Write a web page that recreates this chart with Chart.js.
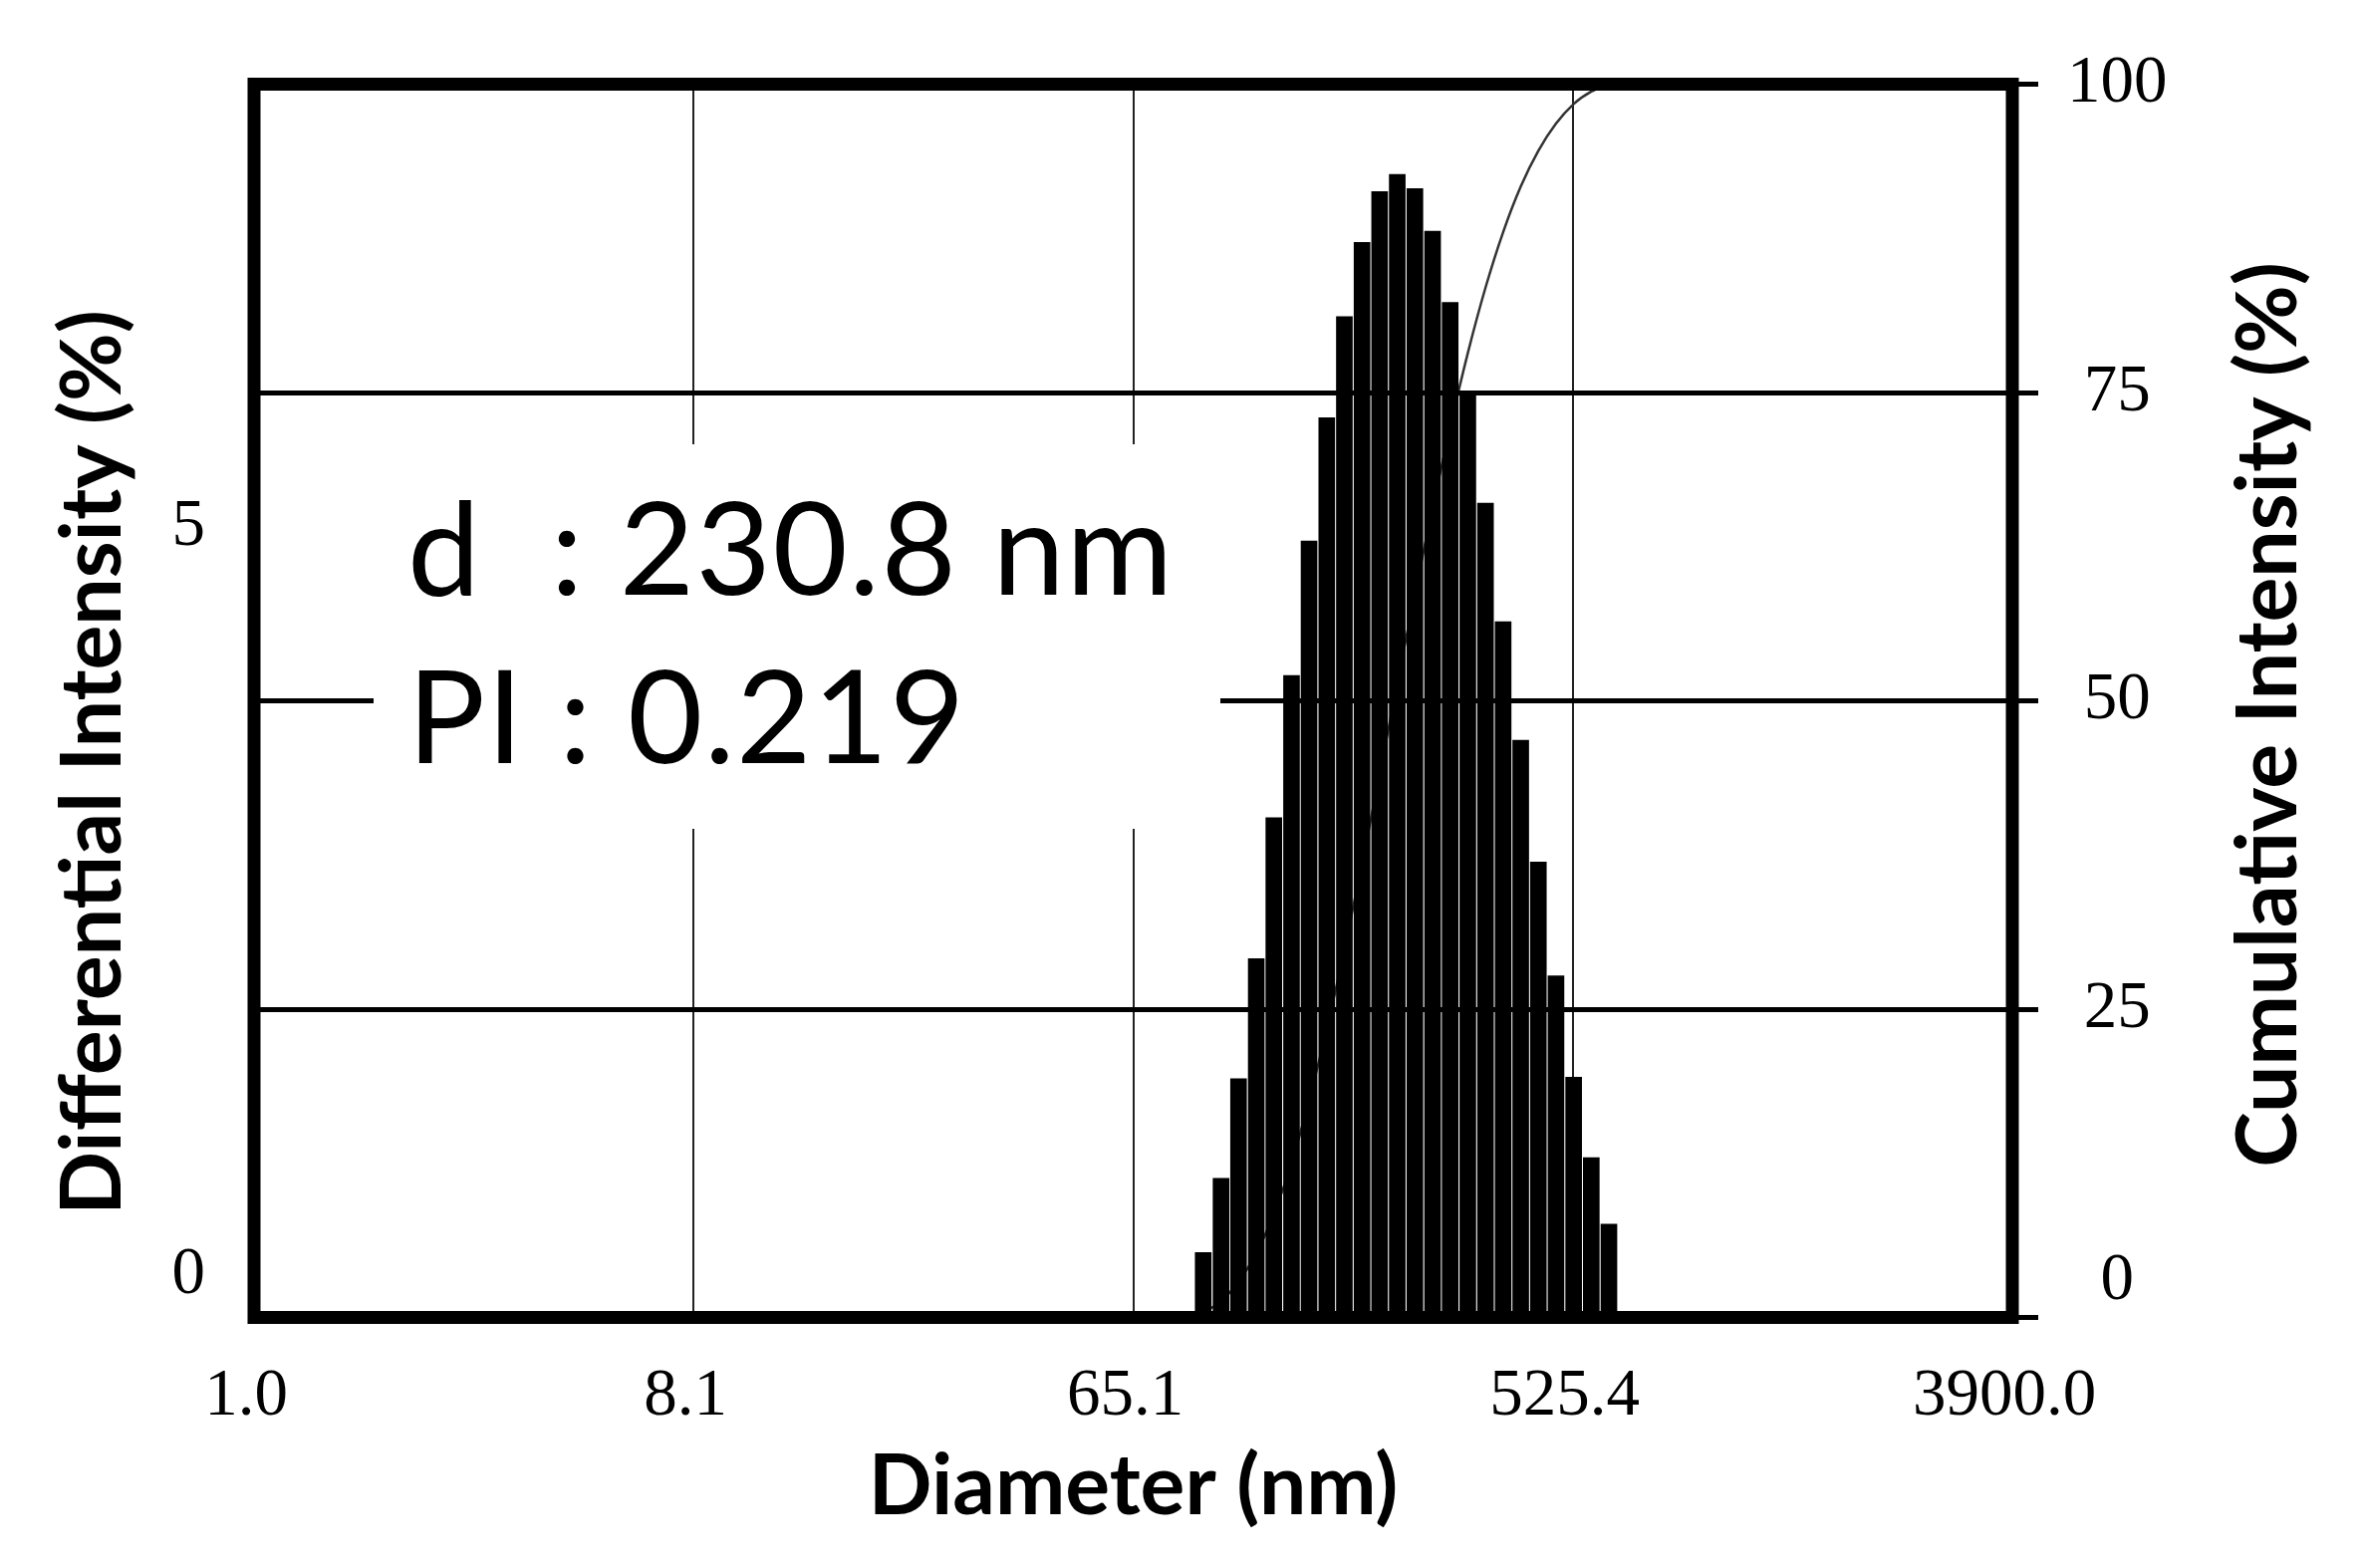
<!DOCTYPE html>
<html>
<head>
<meta charset="utf-8">
<title>Diameter distribution</title>
<script src="https://cdn.jsdelivr.net/npm/chart.js"></script>
<style>
  body { margin: 0; background: #fff; }
  #wrap { position: relative; width: 2372px; height: 1574px; }
  #note {
    position: absolute; left: 375px; top: 446px; width: 850px; height: 386px;
    box-sizing: border-box; padding: 17px 0 0 34px; background: #fff;
    font-family: Lato; font-size: 130px; line-height: 169px; letter-spacing: 1.5px;
    white-space: pre; color: #000;
  }
</style>
</head>
<body>
<div id="wrap">
  <canvas id="myChart" width="2372" height="1574"></canvas>
  <div id="note">d  : 230.8 nm<br>PI : 0.219</div>
</div>
<script>
// bin diameters (nm) and the two series
const diameters = [86.8, 94.4, 102.5, 111.4, 121.0, 131.5, 142.8, 155.2, 168.6, 183.2, 199.0, 216.2,
                   234.9, 255.3, 277.3, 301.3, 327.4, 355.7, 386.4, 419.8, 456.1, 495.6, 538.4, 585.0];
const differential = [0.41, 0.88, 1.51, 2.27, 3.16, 4.06, 4.91, 5.69, 6.33, 6.80, 7.12, 7.23,
                      7.14, 6.87, 6.42, 5.84, 5.15, 4.40, 3.65, 2.88, 2.16, 1.52, 1.01, 0.59];
const cumulative = [0.4, 1.3, 2.9, 5.2, 8.4, 12.5, 17.6, 23.4, 29.8, 36.8, 44.0, 51.4,
                    58.7, 65.7, 72.2, 78.2, 83.5, 88.0, 91.7, 94.6, 96.8, 98.4, 99.4, 100];

const xTickValues = [1, 7.9, 62.45, 493.5, 3900];
const xTickLabels = ['1.0', '8.1', '65.1', '525.4', '3900.0'];
const leftTicks = [0, 5];
const rightTicks = [0, 25, 50, 75, 100];

const leftTitle = 'Differential Intensity (%)';
const rightTitle = 'Cumulative Intensity (%)';

// the zero labels sit a bit higher than their tick, a blank second line does that
function tickFont(zeroLine) {
  return (c) => ({
    family: 'Liberation Serif',
    size: 67,
    lineHeight: c.tick && c.tick.value === 0 ? zeroLine : 1
  });
}
function zeroLabel(v) {
  return v === 0 ? ['0', ''] : String(v);
}

const frame = {
  id: 'frame',
  afterDraw(chart) {
    const { ctx, chartArea: a } = chart;
    ctx.save();
    ctx.lineWidth = 13;
    ctx.strokeStyle = '#000';
    ctx.strokeRect(a.left, a.top, a.right - a.left, a.bottom - a.top);

    // both axis titles read bottom to top
    ctx.fillStyle = '#000';
    ctx.font = 'bold 84px Lato';
    ctx.textAlign = 'center';
    ctx.textBaseline = 'middle';
    const mid = (a.top + a.bottom) / 2;
    [[leftTitle, a.left - 161.5, mid + 62], [rightTitle, a.right + 257.5, mid + 14]].forEach(([t, x, y]) => {
      ctx.save();
      ctx.translate(x, y);
      ctx.rotate(-Math.PI / 2);
      ctx.fillText(t, 0, 0);
      ctx.restore();
    });
    ctx.restore();
  }
};

new Chart(document.getElementById('myChart'), {
  type: 'bar',
  data: {
    datasets: [
      {
        type: 'bar',
        label: 'Differential',
        data: diameters.map((d, i) => ({ x: d, y: differential[i] })),
        backgroundColor: '#000',
        barThickness: 16,
        yAxisID: 'y',
        order: 1
      },
      {
        type: 'line',
        label: 'Cumulative',
        data: diameters.map((d, i) => ({ x: d, y: cumulative[i] })),
        borderColor: '#333',
        borderWidth: 2.5,
        pointRadius: 0,
        cubicInterpolationMode: 'monotone',
        fill: false,
        yAxisID: 'y2',
        order: 2
      }
    ]
  },
  options: {
    responsive: false,
    animation: false,
    devicePixelRatio: 1,
    layout: { padding: { left: 123.5, right: 167.5, top: 84.5, bottom: 39.5 } },
    plugins: { legend: { display: false }, tooltip: { enabled: false } },
    scales: {
      x: {
        type: 'logarithmic',
        min: 1,
        max: 3900,
        offset: false,
        afterBuildTicks: (s) => { s.ticks = xTickValues.map(v => ({ value: v })); },
        ticks: {
          autoSkip: false,
          maxRotation: 0,
          padding: 6.5,
          labelOffset: -8,
          color: '#000',
          font: { family: 'Liberation Serif', size: 67, lineHeight: 1 },
          callback: (v, i) => xTickLabels[i]
        },
        grid: { offset: false, color: '#222', lineWidth: 2, tickLength: 40, tickColor: 'rgba(0,0,0,0)' },
        border: { display: false },
        title: {
          display: true,
          text: 'Diameter (nm)',
          color: '#000',
          font: { family: 'Lato', size: 84, weight: 'bold', lineHeight: 1 },
          padding: { top: 8, bottom: 0 }
        }
      },
      y: {
        position: 'left',
        min: 0,
        max: 7.8,
        afterBuildTicks: (s) => { s.ticks = leftTicks.map(v => ({ value: v })); },
        ticks: { padding: 49, color: '#000', font: tickFont(1.26), callback: zeroLabel },
        grid: { display: false, drawTicks: false },
        border: { display: false }
      },
      y2: {
        position: 'right',
        min: 0,
        max: 100,
        afterBuildTicks: (s) => { s.ticks = rightTicks.map(v => ({ value: v })); },
        ticks: { padding: 29, crossAlign: 'center', color: '#000', font: tickFont(1.08), callback: zeroLabel },
        grid: { color: '#000', lineWidth: 5, tickLength: 26, z: 1 },
        border: { display: false }
      }
    }
  },
  plugins: [frame]
});
</script>
</body>
</html>
